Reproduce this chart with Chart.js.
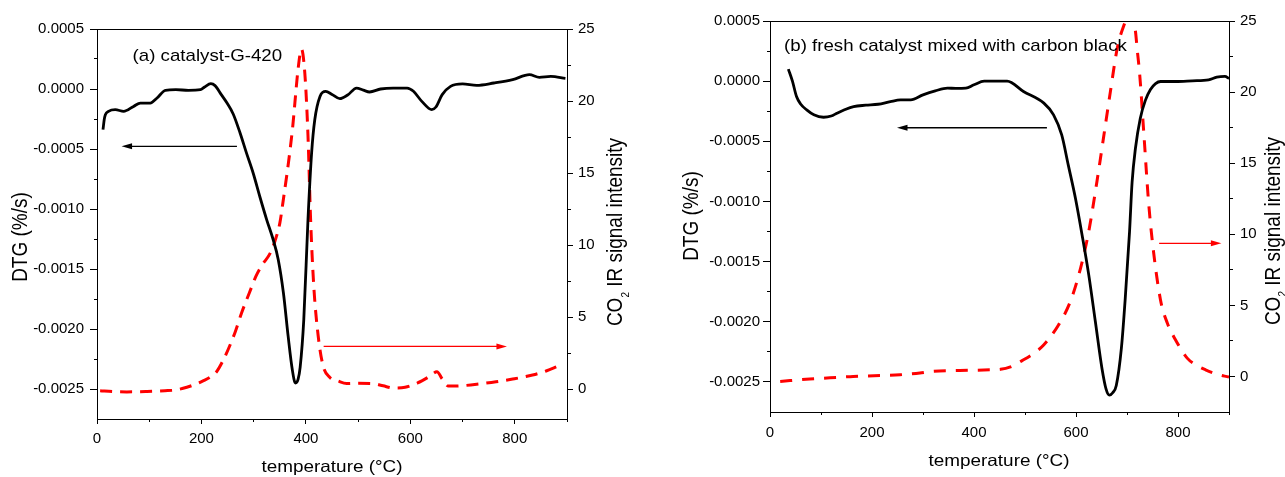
<!DOCTYPE html>
<html>
<head>
<meta charset="utf-8">
<script src="https://cdn.jsdelivr.net/npm/chart.js@4.4.0/dist/chart.umd.min.js"></script>
<style>
html,body{margin:0;padding:0;background:#fff;}
#wrap{position:relative;width:1285px;height:477px;overflow:hidden;background:#fff;}
#ca{position:absolute;left:0;top:0;}
#cb{position:absolute;left:642px;top:0;}
</style>
</head>
<body>
<div id="wrap">
<canvas id="ca" width="642" height="477"></canvas>
<canvas id="cb" width="643" height="477"></canvas>
</div>
<script>
// ---------------- data ----------------
// Panel (a) catalyst-G-420
const tempA_dtg = [11.5,14,16,22,35,51,70,83,102,115,131,151,175,198,206,218,226,238,249,261,274,286,299,312,325,337,347,357,366,374,380,385,389,396,404,411,417,427,438,450,465,480,497,510,522,543,567,594,606,622,641,649,661,677,700,727,760,796,828,847,869,897];
const dtgA = [-0.000339,-0.00025,-0.000214,-0.000186,-0.000172,-0.000186,-0.000145,-0.000117,-0.000117,-0.000075,-0.000011,-0.000006,-0.000011,-0.000006,0.000017,0.000044,0.000028,-0.000047,-0.000117,-0.00021,-0.000367,-0.00053,-0.0007,-0.0009,-0.00109,-0.00125,-0.00142,-0.0017,-0.00206,-0.00234,-0.00245,-0.00242,-0.00232,-0.00192,-0.00109,-0.00053,-0.000256,-0.000062,-0.00002,-0.000045,-0.00008,-0.00005,0.000008,-0.00001,-0.000025,0,0.000008,0.000008,-0.000019,-0.000103,-0.000172,-0.00015,-0.000047,0.000022,0.000042,0.000031,0.00005,0.000078,0.000119,0.000097,0.000105,0.000089];
const tempA_co2 = [6,30,57,96,130,150,172,190,204,218,229,241,253,265,277,292,304,316,332,341,350,357,364,369,375,379,385,391.5,398,404,409,415,423.5,433,446,462,478,500,528,548,567,590,614,637,651,661,673,700,732,764,796,834,860,884];
const co2A = [-0.12,-0.18,-0.2,-0.17,-0.12,-0.07,0.12,0.35,0.58,0.85,1.2,1.95,2.9,4.0,5.3,6.7,7.8,8.6,9.45,10.3,11.5,13.2,15.0,16.4,18.3,19.9,22.2,23.6,21.9,17.6,11.8,7.2,3.7,1.6,0.8,0.55,0.38,0.4,0.38,0.22,0.07,0.12,0.42,0.88,1.2,0.7,0.2,0.23,0.35,0.5,0.69,0.97,1.25,1.6];

// Panel (b) fresh catalyst mixed with carbon black
const tempB_dtg = [36,44,52,60,72,86,105,120,131,145,164,188,212,236,256,276,300,324,348,364,384,400,420,452,465,497,537,556,572,585,599,612,625,638,651,659,665.5,672,679,689,696.5,705,710,716.5,726,736,746,756,766,796,828,860,876,892,900];
const dtgB = [0.0001,0.0,-0.000128,-0.00019,-0.000239,-0.00028,-0.0003,-0.00029,-0.000267,-0.00024,-0.000211,-0.0002,-0.000192,-0.00017,-0.000156,-0.000156,-0.000114,-0.000081,-0.000058,-0.00006,-0.000058,-0.00003,0,0,0,-0.000086,-0.000183,-0.00028,-0.000447,-0.0007,-0.000975,-0.00128,-0.00161,-0.002,-0.00239,-0.00256,-0.00261,-0.00259,-0.00253,-0.00222,-0.00181,-0.00125,-0.00084,-0.00056,-0.00031,-0.00016,-0.00007,-0.00002,-0.000003,-0.000003,0.000003,0.000011,0.000033,0.000039,0.000022];
const tempB_co2 = [20,78,140,163,204,255,294,316,372,436,452,470,497,520,537,566,589,609,625,641,654,667.5,681,694,706,716.5,720,725,733,742,750,765.6,779,795,818,836,854,874,900];
const co2B = [-0.35,-0.18,-0.05,0,0.05,0.12,0.24,0.35,0.42,0.47,0.5,0.65,1.17,1.7,2.23,3.64,5.28,7.62,10.2,13.7,16.8,20.05,23.1,24.7,25.6,24.3,23,21.2,17.1,12.4,9.4,5.4,3.76,2.58,1.29,0.8,0.47,0.19,-0.05];

// ticks
const xTicks = [0,200,400,600,800];
const xTickLabels = ['0','200','400','600','800'];
const xMinorTicks = [100,300,500,700,900];
const dtgTicks = [-0.0025,-0.002,-0.0015,-0.001,-0.0005,0,0.0005];
const dtgTickLabels = ['-0.0025','-0.0020','-0.0015','-0.0010','-0.0005','0.0000','0.0005'];
const dtgMinorTicks = [-0.00225,-0.00175,-0.00125,-0.00075,-0.00025,0.00025];
const co2Ticks = [0,5,10,15,20,25];
const co2TickLabels = ['0','5','10','15','20','25'];
const co2MinorTicks = [2.5,7.5,12.5,17.5,22.5];

// arrows (data coordinates)
const arrowsA = [
  {axis:'y', x1:268, x2:47, y:-0.000478, color:'#000000'},
  {axis:'y1', x1:434, x2:785, y:2.96, color:'#ff0000'}
];
const arrowsB = [
  {axis:'y', x1:543, x2:249, y:-0.000387, color:'#000000'},
  {axis:'y1', x1:763, x2:885, y:9.36, color:'#ff0000'}
];

// text
const titleA = '(a) catalyst-G-420';
const titleB = '(b) fresh catalyst mixed with carbon black';
const xTitle = 'temperature (°C)';
const yTitle = 'DTG (%/s)';
const y1TitleParts = [['CO',0], ['2',1], [' IR signal intensity',0]];

// ---------------- drawing ----------------
const FONT = '"Liberation Sans", Arial, sans-serif';

function px(v){ return Math.round(v - 0.5) + 0.5; }

const overlayPlugin = {
  id: 'overlay',
  afterDraw(chart) {
    const o = chart.options.plugins.overlay;
    const {ctx, chartArea: ca, scales} = chart;
    ctx.save();
    // top frame line
    ctx.strokeStyle = '#000'; ctx.lineWidth = 1;
    ctx.beginPath();
    ctx.moveTo(ca.left, px(ca.top)); ctx.lineTo(ca.right + 0.5, px(ca.top));
    ctx.stroke();
    // minor ticks
    ctx.beginPath();
    for (const v of xMinorTicks) {
      const p = px(scales.x.getPixelForValue(v));
      ctx.moveTo(p, ca.bottom); ctx.lineTo(p, ca.bottom + o.minorX);
    }
    for (const v of dtgMinorTicks) {
      const p = px(scales.y.getPixelForValue(v));
      ctx.moveTo(ca.left, p); ctx.lineTo(ca.left - o.minorY, p);
    }
    for (const v of co2MinorTicks) {
      const p = px(scales.y1.getPixelForValue(v));
      ctx.moveTo(ca.right, p); ctx.lineTo(ca.right + o.minorY1, p);
    }
    ctx.stroke();
    // arrows
    for (const a of o.arrows) {
      const x1 = scales.x.getPixelForValue(a.x1);
      const x2 = scales.x.getPixelForValue(a.x2);
      const y = scales[a.axis].getPixelForValue(a.y);
      const d = Math.sign(x2 - x1);
      ctx.strokeStyle = a.color; ctx.fillStyle = a.color; ctx.lineWidth = 1.4;
      ctx.beginPath(); ctx.moveTo(x1, y); ctx.lineTo(x2 - d * 8, y); ctx.stroke();
      ctx.beginPath(); ctx.moveTo(x2, y); ctx.lineTo(x2 - d * 10.5, y - 3); ctx.lineTo(x2 - d * 10.5, y + 3); ctx.closePath(); ctx.fill();
    }
    ctx.fillStyle = '#000';
    // annotation
    ctx.save();
    ctx.translate(o.note.x, o.note.y); ctx.scale(1.1, 1);
    ctx.font = '17px ' + FONT; ctx.textAlign = 'left'; ctx.textBaseline = 'alphabetic';
    ctx.fillText(o.note.text, 0, 0);
    ctx.restore();
    // x title
    ctx.save();
    ctx.translate(o.xt.x, o.xt.y); ctx.scale(1.146, 1);
    ctx.font = '16.5px ' + FONT; ctx.textAlign = 'center'; ctx.textBaseline = 'alphabetic';
    ctx.fillText(xTitle, 0, 0);
    ctx.restore();
    // left y title
    ctx.save();
    ctx.translate(o.yt.x, o.yt.y); ctx.rotate(-Math.PI / 2); ctx.scale(1, 1.12);
    ctx.font = '19px ' + FONT; ctx.textAlign = 'center'; ctx.textBaseline = 'alphabetic';
    ctx.fillText(yTitle, 0, 0.35 * 19);
    ctx.restore();
    // right y title with subscript
    ctx.save();
    ctx.translate(o.y1t.x, o.y1t.y); ctx.rotate(-Math.PI / 2); ctx.scale(1, 1.12);
    ctx.textAlign = 'left'; ctx.textBaseline = 'alphabetic';
    const base = 0.35 * 19;
    let total = 0;
    const widths = y1TitleParts.map(([t, sub]) => { ctx.font = (sub ? '10px ' : '19px ') + FONT; const w = ctx.measureText(t).width; total += w; return w; });
    let xx = -total / 2;
    y1TitleParts.forEach(([t, sub], i) => {
      ctx.font = (sub ? '10px ' : '19px ') + FONT;
      ctx.fillText(t, xx, sub ? base + 5.5 : base);
      xx += widths[i];
    });
    ctx.restore();
    ctx.restore();
  }
};

function makeChart(el, p) {
  const tickFont = {family: FONT, size: 15};
  return new Chart(el, {
    type: 'line',
    data: {
      datasets: [
        {
          label: 'DTG',
          data: p.dtgT.map((t, i) => ({x: t, y: p.dtg[i]})),
          yAxisID: 'y',
          borderColor: '#000000', borderWidth: 2.8,
          pointRadius: 0, fill: false, cubicInterpolationMode: 'monotone',
          borderJoinStyle: 'round'
        },
        {
          label: 'CO2',
          data: p.co2T.map((t, i) => ({x: t, y: p.co2[i]})),
          yAxisID: 'y1',
          borderColor: '#ff0000', borderWidth: 3,
          borderDash: p.dash,
          pointRadius: 0, fill: false, cubicInterpolationMode: 'monotone'
        }
      ]
    },
    options: {
      responsive: false,
      animation: false,
      devicePixelRatio: 1,
      events: [],
      layout: {padding: {top: p.top, bottom: 0, left: 0, right: 0}},
      plugins: {
        legend: {display: false},
        tooltip: {enabled: false},
        overlay: p.overlay
      },
      scales: {
        x: {
          type: 'linear', position: 'bottom', min: 0, max: 900,
          afterBuildTicks: s => { s.ticks = xTicks.map(v => ({value: v})); },
          ticks: {callback: (v, i) => xTickLabels[i], color: '#000', font: tickFont, padding: p.xPad, maxRotation: 0, autoSkip: false},
          grid: {drawOnChartArea: false, drawTicks: true, tickLength: 5, tickColor: '#000', tickWidth: 1},
          border: {display: true, color: '#000', width: 1},
          afterFit: s => { s.height = p.xH; }
        },
        y: {
          type: 'linear', position: 'left', min: -0.00275, max: 0.0005,
          afterBuildTicks: s => { s.ticks = dtgTicks.map(v => ({value: v})); },
          ticks: {callback: (v, i) => dtgTickLabels[i], color: '#000', font: tickFont, padding: p.yPad, autoSkip: false},
          grid: {drawOnChartArea: false, drawTicks: true, tickLength: 7, tickColor: '#000', tickWidth: 1},
          border: {display: true, color: '#000', width: 1},
          afterFit: s => { s.width = p.yW; }
        },
        y1: {
          type: 'linear', position: 'right', min: p.co2Min, max: 25,
          afterBuildTicks: s => { s.ticks = co2Ticks.map(v => ({value: v})); },
          ticks: {callback: (v, i) => co2TickLabels[i], color: '#000', font: tickFont, padding: 5, autoSkip: false},
          grid: {drawOnChartArea: false, drawTicks: true, tickLength: 6, tickColor: '#000', tickWidth: 1},
          border: {display: true, color: '#000', width: 1},
          afterFit: s => { s.width = p.y1W; }
        }
      }
    },
    plugins: [overlayPlugin]
  });
}

makeChart(document.getElementById('ca'), {
  dtgT: tempA_dtg, dtg: dtgA, co2T: tempA_co2, co2: co2A,
  dash: [12, 8], co2Min: -2.0833,
  top: 29, xH: 58, yW: 97, y1W: 75, xPad: 6, yPad: 6,
  overlay: {
    minorX: 3, minorY: 3, minorY1: 4,
    arrows: arrowsA,
    note: {text: titleA, x: 132.5, y: 61},
    xt: {x: 332, y: 471.7},
    yt: {x: 19.5, y: 237},
    y1t: {x: 615, y: 232}
  }
});

makeChart(document.getElementById('cb'), {
  dtgT: tempB_dtg, dtg: dtgB, co2T: tempB_co2, co2: co2B,
  dash: [12, 10], co2Min: -2.5,
  top: 21, xH: 65, yW: 128, y1W: 56, xPad: 7, yPad: 3,
  overlay: {
    minorX: 3, minorY: 3, minorY1: 4,
    arrows: arrowsB,
    note: {text: titleB, x: 142, y: 50.5},
    xt: {x: 357, y: 466},
    yt: {x: 49, y: 216},
    y1t: {x: 630.7, y: 231}
  }
});
</script>
</body>
</html>
